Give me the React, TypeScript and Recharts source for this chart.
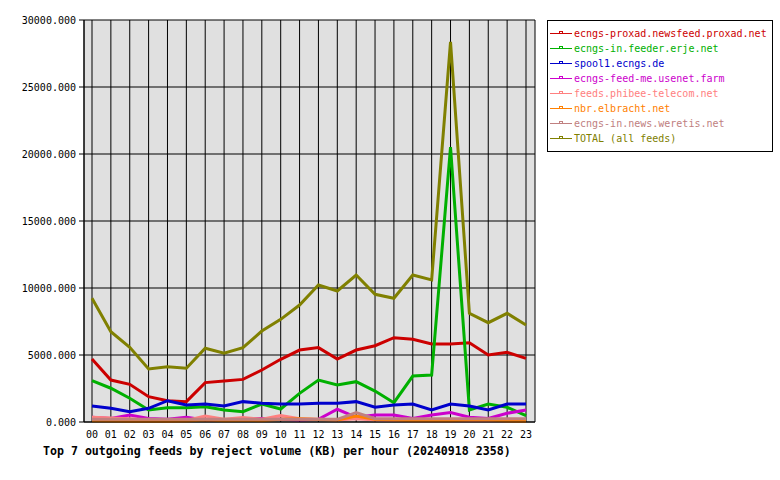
import React from "react";
import { LineChart, Line, CartesianGrid, XAxis, YAxis, Legend } from "recharts";

const hours = [
  "00", "01", "02", "03", "04", "05", "06", "07", "08", "09", "10", "11",
  "12", "13", "14", "15", "16", "17", "18", "19", "20", "21", "22", "23",
];

const proxad = [4700, 3130, 2810, 1890, 1590, 1520, 2940, 3060, 3180, 3880, 4680, 5370, 5550, 4700, 5370, 5690, 6290, 6170, 5820, 5820, 5920, 5000, 5200, 4750];
const erje = [3080, 2520, 1770, 900, 1070, 1070, 1140, 900, 770, 1340, 970, 2140, 3130, 2760, 3010, 2310, 1440, 3430, 3510, 20520, 900, 1340, 1100, 470];
const spool1 = [1190, 1020, 770, 1020, 1590, 1270, 1340, 1190, 1520, 1400, 1340, 1340, 1400, 1400, 1520, 1100, 1270, 1340, 900, 1340, 1190, 900, 1340, 1340];
const feedMe = [350, 270, 520, 270, 200, 350, 150, 150, 200, 270, 200, 150, 200, 950, 350, 520, 520, 270, 520, 700, 350, 270, 650, 900];
const phibee = [350, 300, 250, 150, 100, 120, 450, 200, 330, 200, 480, 250, 200, 150, 250, 150, 120, 100, 100, 120, 100, 100, 100, 100];
const elbracht = [100, 80, 60, 50, 60, 80, 150, 100, 120, 100, 200, 250, 180, 150, 450, 200, 150, 100, 120, 100, 150, 150, 80, 60];
const weretis = [200, 200, 200, 200, 200, 200, 200, 200, 200, 200, 200, 200, 200, 200, 700, 250, 250, 250, 250, 250, 250, 250, 250, 250];
const total = [9230, 6740, 5580, 3960, 4130, 4010, 5500, 5130, 5550, 6790, 7660, 8730, 10220, 9780, 10970, 9530, 9230, 10970, 10600, 28360, 8110, 7410, 8110, 7240];

const yTicks = [0, 5000, 10000, 15000, 20000, 25000, 30000];

const series = [
  { key: "proxad", name: "ecngs-proxad.newsfeed.proxad.net", color: "#cc0000", values: proxad },
  { key: "erje", name: "ecngs-in.feeder.erje.net", color: "#00b000", values: erje },
  { key: "spool1", name: "spool1.ecngs.de", color: "#0000cc", values: spool1 },
  { key: "feedMe", name: "ecngs-feed-me.usenet.farm", color: "#cc00cc", values: feedMe },
  { key: "phibee", name: "feeds.phibee-telecom.net", color: "#ff8080", values: phibee },
  { key: "elbracht", name: "nbr.elbracht.net", color: "#ff8000", values: elbracht },
  { key: "weretis", name: "ecngs-in.news.weretis.net", color: "#c08080", values: weretis },
  { key: "total", name: "TOTAL (all feeds)", color: "#808000", values: total },
];

const data = hours.map((hour, i) => {
  const row: Record<string, string | number> = { hour };
  series.forEach((s) => {
    row[s.key] = s.values[i];
  });
  return row;
});

const font = "'DejaVu Sans Mono', monospace";

const FeedLegend = () => (
  <div
    style={{
      border: "1px solid #000",
      background: "#fff",
      width: 222,
      height: 125,
      padding: "5px 0 0 2px",
      fontFamily: font,
      fontSize: 10,
    }}
  >
    {series.map((s) => (
      <div key={s.key} style={{ display: "flex", alignItems: "center", height: 15, color: s.color, whiteSpace: "nowrap" }}>
        <svg width={24} height={15} style={{ display: "block" }}>
          <line x1={0} x2={22} y1={7.5} y2={7.5} stroke={s.color} strokeWidth={1} />
          <rect x={9.5} y={5.5} width={3} height={2} fill="none" stroke={s.color} strokeWidth={1} />
        </svg>
        <span>{s.name}</span>
      </div>
    ))}
  </div>
);

export default function App() {
  return (
    <div style={{ position: "absolute", left: 0, top: 0, width: 780, height: 480, background: "#fff" }}>
      <LineChart width={780} height={480} data={data} margin={{ top: 20, right: 245, bottom: 28, left: 8 }}>
        <CartesianGrid stroke="#000" fill="#e0e0e0" fillOpacity={1} />
        <XAxis
          dataKey="hour"
          interval={0}
          padding={{ left: 8, right: 9 }}
          tickLine={false}
          tickSize={6}
          tickMargin={3}
          height={30}
          axisLine={{ stroke: "#000" }}
          tick={{ fill: "#000", fontSize: 10, fontFamily: font }}
        />
        <YAxis
          domain={[0, 30000]}
          ticks={yTicks}
          width={76}
          tickSize={5}
          tickMargin={3}
          tickFormatter={(v: number) => v.toFixed(3)}
          axisLine={{ stroke: "#000" }}
          tickLine={{ stroke: "#000" }}
          tick={{ fill: "#000", fontSize: 10, fontFamily: font }}
        />
        <YAxis yAxisId="r" orientation="right" width={0} tick={false} tickLine={false} axisLine={{ stroke: "#000" }} />
        {series.map((s) => (
          <Line
            key={s.key}
            type="linear"
            dataKey={s.key}
            name={s.name}
            stroke={s.color}
            strokeWidth={3}
            dot={false}
            activeDot={false}
            isAnimationActive={false}
          />
        ))}
        <Legend
          layout="vertical"
          align="center"
          verticalAlign="middle"
          wrapperStyle={{ left: 547, top: 20, width: "auto", height: "auto" }}
          content={<FeedLegend />}
        />
      </LineChart>
      <div
        style={{
          position: "absolute",
          left: 43,
          top: 444,
          fontFamily: font,
          fontWeight: "bold",
          fontSize: 11.6,
          lineHeight: "14px",
          color: "#000",
          whiteSpace: "nowrap",
        }}
      >
        Top 7 outgoing feeds by reject volume (KB) per hour (20240918 2358)
      </div>
    </div>
  );
}
